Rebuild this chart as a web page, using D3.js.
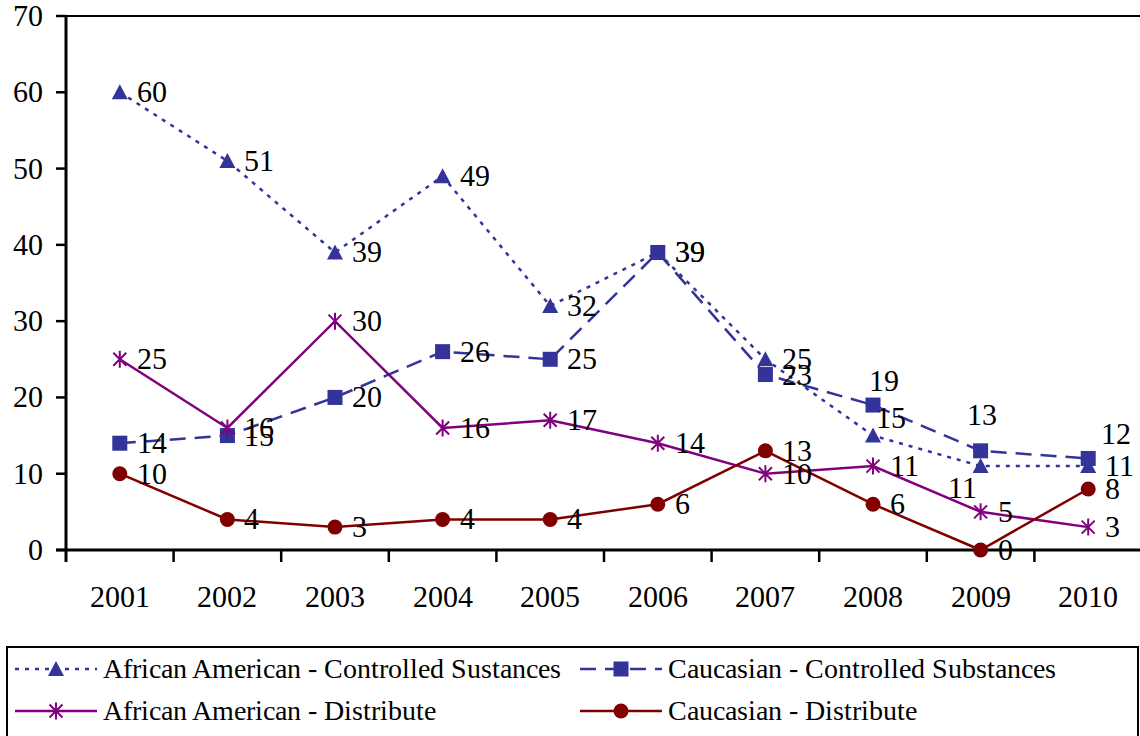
<!DOCTYPE html>
<html><head><meta charset="utf-8">
<script src="https://cdn.jsdelivr.net/npm/d3@7"></script>
<style>
@font-face { font-family: "ChartSerif"; src: local("Liberation Serif"), local("LiberationSerif"), local("LiberationSerif-Regular"), local("Tinos"), local("Times New Roman"); }
</style>
</head>
<body style="margin:0">
<svg id="chart" width="1140" height="736"></svg>
<script>
const years = ["2001","2002","2003","2004","2005","2006","2007","2008","2009","2010"];
const aaControlled = [60, 51, 39, 49, 32, 39, 25, 15, 11, 11];
const caControlled = [14, 15, 20, 26, 25, 39, 23, 19, 13, 12];
const aaDistribute = [25, 16, 30, 16, 17, 14, 10, 11, 5, 3];
const caDistribute = [10, 4, 3, 4, 4, 6, 13, 6, 0, 8];
const yTicks = [0, 10, 20, 30, 40, 50, 60, 70];
const seriesNames = ["African American - Controlled Sustances", "Caucasian - Controlled Substances",
                     "African American - Distribute", "Caucasian - Distribute"];

const series = [
  {name: seriesNames[0], values: aaControlled, color: "#333399", dash: "4,6", marker: "triangle"},
  {name: seriesNames[1], values: caControlled, color: "#333399", dash: "16,9", marker: "square"},
  {name: seriesNames[2], values: aaDistribute, color: "#800080", dash: null, marker: "star"},
  {name: seriesNames[3], values: caDistribute, color: "#800000", dash: null, marker: "circle"}
];
// label offsets (dx to text start, dy from point) for labels not in default "right" position
const labelAdjust = {
  "1-7": {dx: -4, dy: -24},   // 19
  "1-8": {dx: -14, dy: -36},  // 13
  "1-9": {dx: 13, dy: -24},   // 12
  "0-7": {dx: 3, dy: -18},    // 15
  "0-8": {dx: -33, dy: 22}    // 11
};
const FONT = "ChartSerif, 'Liberation Serif', Tinos, 'Times New Roman'";

const svg = d3.select("#chart");
const x = d3.scaleBand().domain(years).range([66, 1142]);
const y = d3.scaleLinear().domain([0, 70]).range([550, 16]);
const cx = d => x(d) + x.bandwidth() / 2;

function addText(parent, str, size) {
  return parent.append("text").attr("font-size", size).style("font-family", FONT).attr("fill", "#000").text(str);
}

// plot border top
svg.append("line").attr("x1", 66).attr("x2", 1145).attr("y1", y(70)).attr("y2", y(70))
  .attr("stroke", "#000").attr("stroke-width", 2);

// y axis ticks and labels
svg.append("g").selectAll("line").data(yTicks).join("line")
  .attr("x1", 56).attr("x2", 66).attr("y1", d => y(d)).attr("y2", d => y(d))
  .attr("stroke", "#000").attr("stroke-width", 2.5);
yTicks.forEach(t => {
  addText(svg, String(t), 30).attr("x", 43).attr("y", y(t) + 10).attr("text-anchor", "end");
});
svg.append("line").attr("x1", 66).attr("x2", 66).attr("y1", y(70) - 1).attr("y2", 562)
  .attr("stroke", "#000").attr("stroke-width", 3);

// x axis
svg.append("line").attr("x1", 56).attr("x2", 1145).attr("y1", 550).attr("y2", 550)
  .attr("stroke", "#000").attr("stroke-width", 3);
svg.append("g").selectAll("line").data(years.slice(1)).join("line")
  .attr("x1", d => x(d)).attr("x2", d => x(d)).attr("y1", 550).attr("y2", 562)
  .attr("stroke", "#000").attr("stroke-width", 2.5);
years.forEach(yr => {
  addText(svg, yr, 30).attr("x", cx(yr)).attr("y", 607).attr("text-anchor", "middle");
});

const line = d3.line().x((v, i) => cx(years[i])).y(v => y(v));

function drawMarker(g, type, color) {
  if (type === "triangle") {
    g.append("path").attr("d", "M0,-8L8,7L-8,7Z").attr("fill", color);
  } else if (type === "square") {
    g.append("rect").attr("x", -7.5).attr("y", -7.5).attr("width", 15).attr("height", 15).attr("fill", color);
  } else if (type === "circle") {
    g.append("circle").attr("r", 7.5).attr("fill", color);
  } else if (type === "star") {
    g.append("path").attr("d", "M-6.5,-6.5L6.5,6.5M-6.5,6.5L6.5,-6.5M0,-8.5L0,8.5")
      .attr("stroke", color).attr("stroke-width", 2).attr("fill", "none");
  }
}

series.forEach(s => {
  svg.append("path").datum(s.values).attr("d", line).attr("fill", "none")
    .attr("stroke", s.color).attr("stroke-width", 2.5)
    .attr("stroke-dasharray", s.dash);
});
series.forEach(s => {
  s.values.forEach((v, i) => {
    const g = svg.append("g").attr("transform", `translate(${cx(years[i])},${y(v)})`);
    drawMarker(g, s.marker, s.color);
  });
});
series.forEach((s, si) => {
  s.values.forEach((v, i) => {
    const adj = labelAdjust[si + "-" + i] || {dx: 17, dy: 0};
    addText(svg, String(v), 30).attr("x", cx(years[i]) + adj.dx).attr("y", y(v) + adj.dy + 10);
  });
});

// legend
svg.append("rect").attr("x", 7).attr("y", 647).attr("width", 1131).attr("height", 100)
  .attr("fill", "none").attr("stroke", "#000").attr("stroke-width", 2);
const legendPos = [[15, 669], [580, 669], [15, 711], [580, 711]];
series.forEach((s, i) => {
  const [lx, ly] = legendPos[i];
  const g = svg.append("g").attr("transform", `translate(${lx},${ly})`);
  g.append("line").attr("x1", 0).attr("x2", 82).attr("y1", 0).attr("y2", 0)
    .attr("stroke", s.color).attr("stroke-width", 2.5).attr("stroke-dasharray", s.dash);
  const m = g.append("g").attr("transform", "translate(41,0)");
  drawMarker(m, s.marker, s.color);
  addText(g, s.name, 28).attr("x", 88).attr("y", 9);
});
</script>
</body></html>
